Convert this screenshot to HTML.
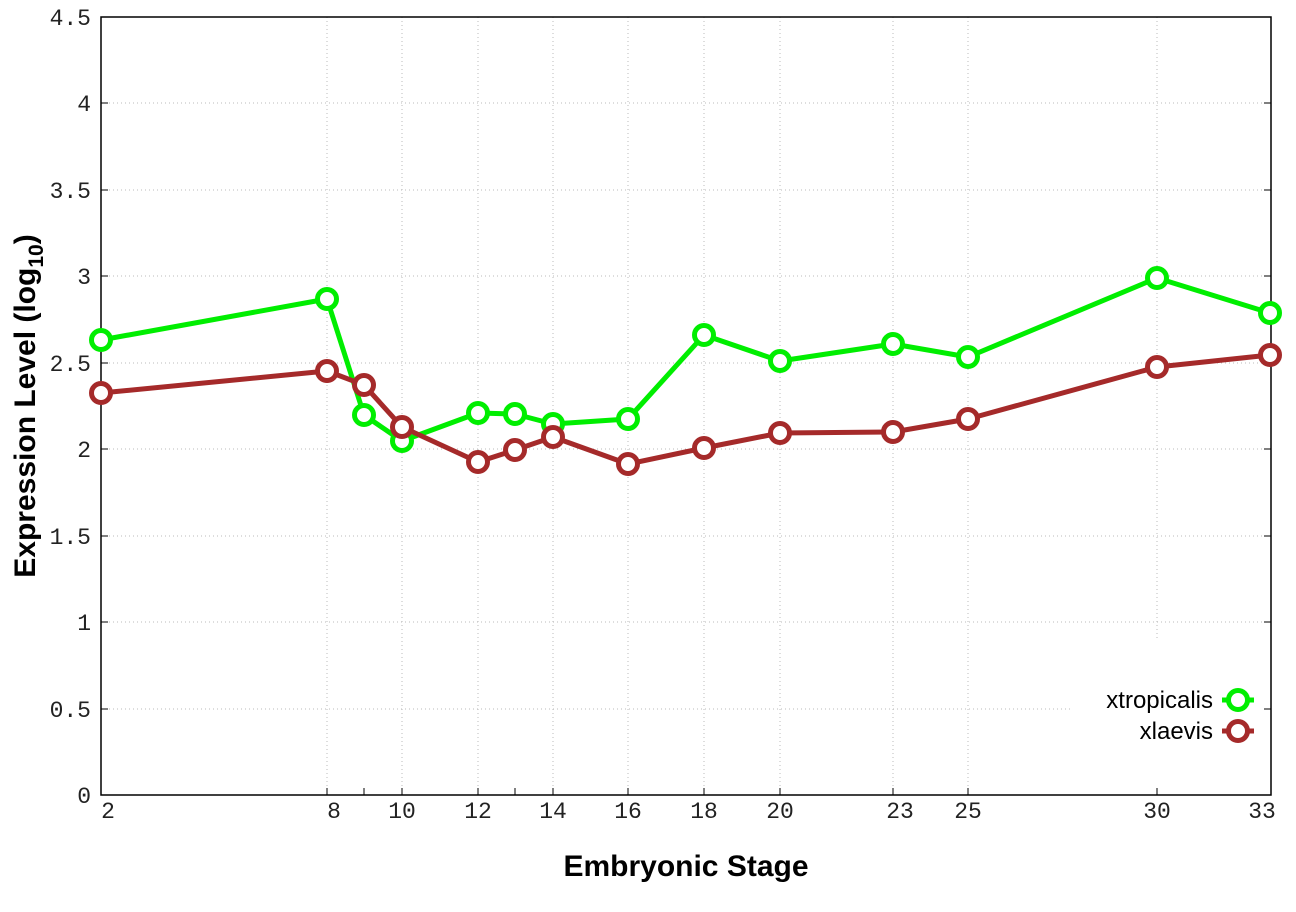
<!DOCTYPE html>
<html><head><style>body{margin:0;background:#fff}</style></head><body>
<svg width="1296" height="907" xmlns="http://www.w3.org/2000/svg">
<rect width="1296" height="907" fill="#fff"/>
<g stroke="#bbb" stroke-width="1" stroke-dasharray="1,3">
<line x1="101" y1="103" x2="1271" y2="103"/><line x1="101" y1="190" x2="1271" y2="190"/>
<line x1="101" y1="276" x2="1271" y2="276"/><line x1="101" y1="363" x2="1271" y2="363"/>
<line x1="101" y1="449" x2="1271" y2="449"/><line x1="101" y1="536" x2="1271" y2="536"/>
<line x1="101" y1="622" x2="1271" y2="622"/><line x1="101" y1="709" x2="1070" y2="709"/>
<line x1="327" y1="17" x2="327" y2="795"/><line x1="402" y1="17" x2="402" y2="795"/>
<line x1="478" y1="17" x2="478" y2="795"/><line x1="553" y1="17" x2="553" y2="795"/>
<line x1="628" y1="17" x2="628" y2="795"/><line x1="704" y1="17" x2="704" y2="795"/>
<line x1="780" y1="17" x2="780" y2="795"/><line x1="893" y1="17" x2="893" y2="795"/>
<line x1="968" y1="17" x2="968" y2="795"/><line x1="1157" y1="17" x2="1157" y2="640"/>
</g>
<rect x="101" y="17" width="1170" height="778" fill="none" stroke="#000" stroke-width="1.5"/>
<g stroke="#000" stroke-width="1">
<line x1="101" y1="103" x2="108" y2="103"/><line x1="101" y1="190" x2="108" y2="190"/><line x1="101" y1="276" x2="108" y2="276"/><line x1="101" y1="363" x2="108" y2="363"/><line x1="101" y1="449" x2="108" y2="449"/><line x1="101" y1="536" x2="108" y2="536"/><line x1="101" y1="622" x2="108" y2="622"/><line x1="101" y1="709" x2="108" y2="709"/>
<line x1="1271" y1="103" x2="1264" y2="103"/><line x1="1271" y1="190" x2="1264" y2="190"/><line x1="1271" y1="276" x2="1264" y2="276"/><line x1="1271" y1="363" x2="1264" y2="363"/><line x1="1271" y1="449" x2="1264" y2="449"/><line x1="1271" y1="536" x2="1264" y2="536"/><line x1="1271" y1="622" x2="1264" y2="622"/><line x1="1271" y1="709" x2="1264" y2="709"/>
<line x1="327" y1="795" x2="327" y2="788"/><line x1="364" y1="795" x2="364" y2="788"/><line x1="402" y1="795" x2="402" y2="788"/><line x1="478" y1="795" x2="478" y2="788"/><line x1="515" y1="795" x2="515" y2="788"/><line x1="553" y1="795" x2="553" y2="788"/><line x1="628" y1="795" x2="628" y2="788"/><line x1="704" y1="795" x2="704" y2="788"/><line x1="780" y1="795" x2="780" y2="788"/><line x1="893" y1="795" x2="893" y2="788"/><line x1="968" y1="795" x2="968" y2="788"/><line x1="1157" y1="795" x2="1157" y2="788"/>
</g>
<g font-family="Liberation Mono, monospace" font-size="23" fill="#222" text-anchor="end">
<text x="91" y="25">4.5</text><text x="91" y="111">4</text><text x="91" y="198">3.5</text><text x="91" y="284">3</text><text x="91" y="371">2.5</text><text x="91" y="457">2</text><text x="91" y="544">1.5</text><text x="91" y="630">1</text><text x="91" y="717">0.5</text><text x="91" y="803">0</text>
</g>
<g font-family="Liberation Mono, monospace" font-size="23" fill="#222" text-anchor="middle">
<text x="108" y="818">2</text><text x="334" y="818">8</text><text x="402" y="818">10</text><text x="478" y="818">12</text><text x="553" y="818">14</text><text x="628" y="818">16</text><text x="704" y="818">18</text><text x="780" y="818">20</text><text x="900" y="818">23</text><text x="968" y="818">25</text><text x="1157" y="818">30</text><text x="1262" y="818">33</text>
</g>
<text x="686" y="876" font-family="Liberation Sans, sans-serif" font-size="30" font-weight="bold" text-anchor="middle">Embryonic Stage</text>
<text transform="translate(35,406) rotate(-90)" font-family="Liberation Sans, sans-serif" font-size="30" font-weight="bold" text-anchor="middle">Expression Level (log<tspan font-size="21" dy="8">10</tspan><tspan dy="-8">)</tspan></text>
<g fill="none" stroke-width="5" stroke-linejoin="round">
<polyline stroke="#00ee00" points="101,340 327,299 364,415 402,441 478,413 515,414 553,424 628,419 704,335 780,361 893,344 968,357 1157,278 1270,313"/>
<polyline stroke="#a52a2a" points="101,393 327,371 364,385 402,427 478,462 515,450 553,437 628,464 704,448 780,433 893,432 968,419 1157,367 1270,355"/>
</g>
<g fill="#fff" stroke-width="5" stroke="#00ee00">
<circle cx="101" cy="340" r="9.5"/><circle cx="327" cy="299" r="9.5"/><circle cx="364" cy="415" r="9.5"/><circle cx="402" cy="441" r="9.5"/><circle cx="478" cy="413" r="9.5"/><circle cx="515" cy="414" r="9.5"/><circle cx="553" cy="424" r="9.5"/><circle cx="628" cy="419" r="9.5"/><circle cx="704" cy="335" r="9.5"/><circle cx="780" cy="361" r="9.5"/><circle cx="893" cy="344" r="9.5"/><circle cx="968" cy="357" r="9.5"/><circle cx="1157" cy="278" r="9.5"/><circle cx="1270" cy="313" r="9.5"/>
</g>
<g fill="#fff" stroke-width="5" stroke="#a52a2a">
<circle cx="101" cy="393" r="9.5"/><circle cx="327" cy="371" r="9.5"/><circle cx="364" cy="385" r="9.5"/><circle cx="402" cy="427" r="9.5"/><circle cx="478" cy="462" r="9.5"/><circle cx="515" cy="450" r="9.5"/><circle cx="553" cy="437" r="9.5"/><circle cx="628" cy="464" r="9.5"/><circle cx="704" cy="448" r="9.5"/><circle cx="780" cy="433" r="9.5"/><circle cx="893" cy="432" r="9.5"/><circle cx="968" cy="419" r="9.5"/><circle cx="1157" cy="367" r="9.5"/><circle cx="1270" cy="355" r="9.5"/>
</g>
<g font-family="Liberation Sans, sans-serif" font-size="24" text-anchor="end" fill="#000">
<text x="1213" y="708">xtropicalis</text><text x="1213" y="739">xlaevis</text>
</g>
<line x1="1222" y1="700" x2="1254" y2="700" stroke="#00ee00" stroke-width="5"/>
<circle cx="1238" cy="700" r="9.5" fill="#fff" stroke="#00ee00" stroke-width="5"/>
<line x1="1222" y1="731" x2="1254" y2="731" stroke="#a52a2a" stroke-width="5"/>
<circle cx="1238" cy="731" r="9.5" fill="#fff" stroke="#a52a2a" stroke-width="5"/>
</svg>
</body></html>
